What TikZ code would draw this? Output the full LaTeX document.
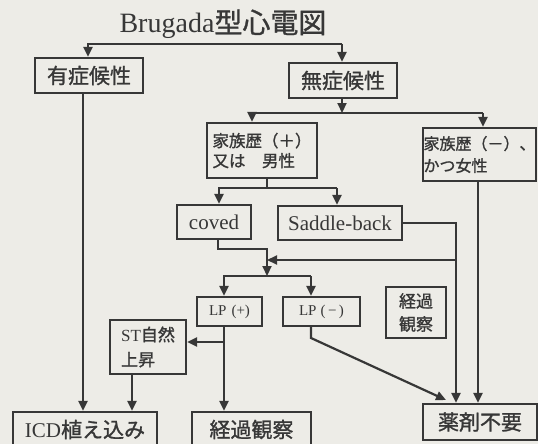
\documentclass[tikz,border=0pt]{standalone}
\usepackage{fontspec}
\setmainfont{Liberation Serif}
\newfontfamily\jp[FakeBold=1.2]{Noto Sans CJK JP}
\usetikzlibrary{arrows.meta}
\definecolor{bg}{RGB}{237,236,231}
\definecolor{ink}{RGB}{55,55,55}
\newcommand{\fsz}[2]{\fontsize{#1}{#2}\selectfont}
\begin{document}
\begin{tikzpicture}[x=1pt,y=-1pt,
  box/.style={draw=ink, line width=2.2pt, inner sep=0pt, text=ink, align=left},
  thinbox/.style={draw=ink, line width=1.2pt, inner sep=0pt, text=ink, align=left},
  conn/.style={draw=ink, line width=2.2pt, line join=miter},
  arr/.style={conn, -{Triangle[length=10pt,width=9pt]}}]
\fill[bg] (0,0) rectangle (538,444);
\useasboundingbox (0,0) rectangle (538,444);

% title
\node[text=ink, font=\fsz{28}{28}, anchor=base, inner sep=0pt] (title) at (223,33) {Brugada{\jp 型心電図}};

% boxes
\node[box, minimum width=108, minimum height=35, font=\jp\fsz{21}{21}] (yu) at (89,75.5) {有症候性};
\node[box, minimum width=108, minimum height=35, font=\jp\fsz{21}{21}] (mu) at (343,80.5) {無症候性};
\node[box, minimum width=110, minimum height=55, font=\jp\fsz{16.5}{20}] (kp) at (262,150.5) {家族歴（＋）\\又は　男性};
\node[box, minimum width=113, minimum height=53, font=\jp\fsz{16}{22}] (km) at (479.5,154.5) {家族歴（－）、\\かつ女性};
\node[box, minimum width=74, minimum height=34, font=\fsz{21}{21}] (cov) at (214,222) {coved};
\node[box, minimum width=124, minimum height=34, font=\fsz{21}{21}] (sad) at (340,223) {Saddle-back};
\node[box, minimum width=65, minimum height=29, font=\fsz{15}{15}] (lpp) at (229.5,311.5) {LP\hspace{5pt}(+)};
\node[box, minimum width=77, minimum height=29, font=\fsz{15}{15}] (lpm) at (321.5,311.5) {LP\hspace{4pt}(\,−\,)};
\node[box, minimum width=76, minimum height=54, font=\fsz{17}{25}] (st) at (148,347) {ST{\jp 自然}\\{\jp 上昇}};
\node[thinbox, minimum width=60, minimum height=51, font=\jp\fsz{17}{23}] (kc) at (416,312.5) {経過\\観察};
\node[box, minimum width=144, minimum height=35, font=\fsz{21}{21}] (icd) at (85,429.5) {ICD{\jp 植え込み}};
\node[box, minimum width=119, minimum height=35, font=\jp\fsz{21}{21}] (kk) at (251.5,429.5) {経過観察};
\node[box, minimum width=114, minimum height=36, font=\jp\fsz{21}{21}] (yz) at (480,422) {薬剤不要};

% junction coordinates
\coordinate (t1) at (88,44);
\coordinate (t2) at (342,44);
\coordinate (m1) at (342,113);
\coordinate (k1) at (252,113);
\coordinate (k2) at (483,113);
\coordinate (c0) at (267,188);
\coordinate (c1) at (219,188);
\coordinate (c2) at (337,188);
\coordinate (d1) at (218,249);
\coordinate (d2) at (267,249);
\coordinate (d3) at (267,276);
\coordinate (e1) at (224,276);
\coordinate (e2) at (311,276);
\coordinate (s1) at (456,260);
\coordinate (f1) at (224,342);
\coordinate (g1) at (132,390);
\coordinate (h1) at (83,300);
\coordinate (p1) at (311,338);
\coordinate (p2) at (446,400);
\coordinate (q1) at (478,300);

% connectors
\draw[arr] (t2) -- (t1) -- (t1 |- yu.north);
\draw[arr] (t2) -- (t2 |- mu.north);
\draw[arr] (mu.south -| m1) -- (m1);
\draw[arr] (k2) -- (k1) -- (k1 |- kp.north);
\draw[arr] (k2) -- (k2 |- km.north);
\draw[conn] (kp.south -| c0) -- (c0);
\draw[arr] (c2) -- (c1) -- (c1 |- cov.north);
\draw[arr] (c2) -- (c2 |- sad.north);
\draw[arr] (cov.south -| d1) -- (d1) -- (d2) -- (d3);
\draw[arr] (e2) -- (e1) -- (e1 |- lpp.north);
\draw[arr] (e2) -- (e2 |- lpm.north);
\draw[arr] (sad.east) -| (s1 |- yz.north);
\draw[arr] (s1) -- (d2 |- s1);
\draw[arr] (lpp.south -| e1) -- (e1 |- kk.north);
\draw[arr] (f1) -- (f1 -| st.east);
\draw[arr] (st.south -| g1) -- (g1 |- icd.north);
\draw[arr] (yu.south -| h1) -- (h1 |- icd.north);
\draw[arr] (lpm.south -| p1) -- (p1) -- (p2);
\draw[arr] (km.south -| q1) -- (q1 |- yz.north);
\end{tikzpicture}
\end{document}
